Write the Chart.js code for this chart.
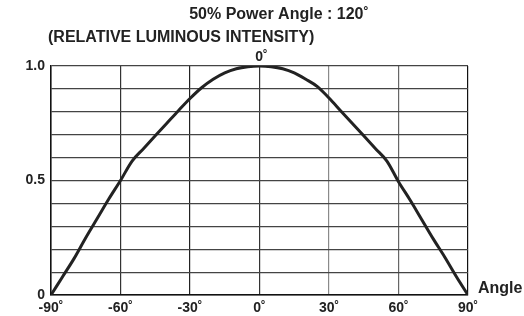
<!DOCTYPE html>
<html><head><meta charset="utf-8">
<script src="https://cdn.jsdelivr.net/npm/chart.js@4/dist/chart.umd.min.js"></script>
<style>html,body{margin:0;padding:0;background:#fff}#wrap{width:524px;height:316px}</style>
</head><body><div id="wrap"><canvas id="c" width="524" height="316"></canvas></div>
<script>
const titleText = "50% Power Angle : 120˚";
const subtitleText = "(RELATIVE LUMINOUS INTENSITY)";
const axisXName = "Angle";
const angles = [-90,-85,-80,-75,-70,-65,-60,-55,-50,-45,-40,-35,-30,-25,-20,-15,-10,-5,0,5,10,15,20,25,30,35,40,45,50,55,60,65,70,75,80,85,90];
const intensity = [0,0.08,0.16,0.25,0.335,0.42,0.50,0.585,0.64,0.695,0.75,0.805,0.858,0.905,0.942,0.97,0.988,0.997,1.0,0.997,0.988,0.97,0.942,0.91,0.86,0.805,0.75,0.695,0.64,0.585,0.495,0.415,0.33,0.245,0.165,0.08,0];
const xTicks = [-90,-60,-30,0,30,60,90];
const yLabels = [0,0.5,1.0];
const FONT = "'Liberation Sans', Arial, sans-serif";
const vColors = {"-90":"#111","-60":"#333","-30":"#222","0":"#333","30":"#8a8a8a","60":"#666","90":"#111"};

const labelPlugin = {
  id:'labels',
  afterDraw(chart){
    const ctx = chart.ctx, y = chart.scales.y, x = chart.scales.x;
    ctx.save();
    ctx.fillStyle = '#222';
    ctx.textBaseline = 'middle';
    ctx.font = 'bold 16px ' + FONT;
    ctx.textAlign = 'center';
    ctx.fillText(titleText, 279, 15);
    ctx.textAlign = 'left';
    ctx.fillText(subtitleText, 48, 38);
    ctx.fillText(axisXName, 478, 289);
    ctx.font = 'bold 14px ' + FONT;
    ctx.textAlign = 'center';
    ctx.fillText('0˚', x.getPixelForValue(0)+2, 57);
    ctx.textAlign = 'right';
    yLabels.forEach(v=>{
      const py = y.getPixelForValue(v);
      ctx.fillText(v===0?'0':v.toFixed(1), 45, py);
    });
    ctx.restore();
  }
};

new Chart(document.getElementById('c'), {
  type:'line',
  data:{ datasets:[{ data: angles.map((a,i)=>({x:a,y:intensity[i]})), borderColor:'#222', borderWidth:3, pointRadius:0, fill:false, cubicInterpolationMode:'monotone' }]},
  options:{
    responsive:false, animation:false, devicePixelRatio:1,
    layout:{ padding:{ top:66, right:56, left:0, bottom:0 } },
    plugins:{ legend:{display:false}, tooltip:{enabled:false} },
    scales:{
      x:{ type:'linear', min:-90, max:90,
        afterBuildTicks(s){ s.ticks = xTicks.map(v=>({value:v})); },
        afterFit(s){ s.height = 21; },
        grid:{ color:(c)=> vColors[String(c.tick && c.tick.value)] || '#333', lineWidth:1.2, drawTicks:false },
        border:{ display:true, color:'#111', width:1.5 },
        ticks:{ padding:5, color:'#222', font:{ family:FONT, weight:'bold', size:14 }, callback:(v)=> v+'˚', maxRotation:0 } },
      y:{ min:0, max:1,
        ticks:{ stepSize:0.1, display:false },
        afterFit(s){ s.width = 51; },
        grid:{ color:'#444', lineWidth:1.2, drawTicks:false },
        border:{ display:true, color:'#111', width:1.5 } }
    }
  },
  plugins:[labelPlugin]
});
</script></body></html>
